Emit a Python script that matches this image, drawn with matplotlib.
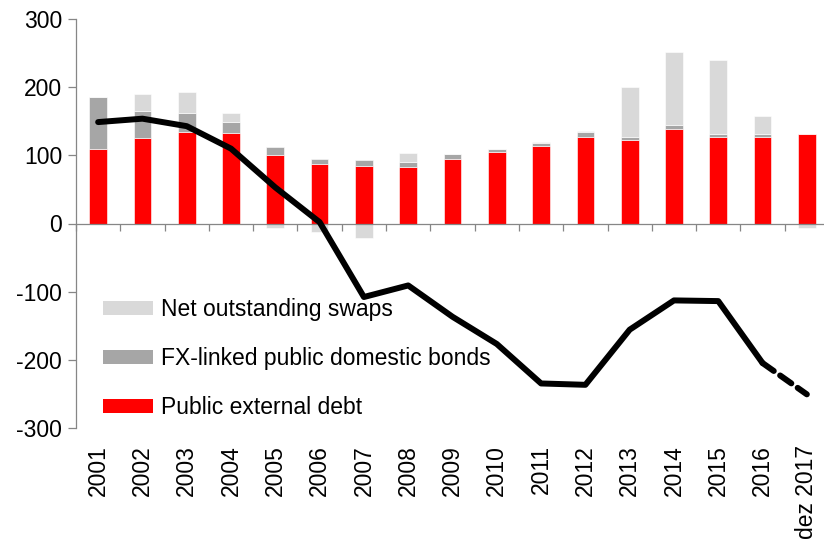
import matplotlib
matplotlib.use("Agg")
import matplotlib.pyplot as plt
import matplotlib.transforms as mtransforms
from matplotlib.patches import Patch
import numpy as np

plt.rcParams['font.family'] = ['Liberation Sans', 'DejaVu Sans']
plt.rcParams['axes.unicode_minus'] = False

# Categories (years)
years = ["2001", "2002", "2003", "2004", "2005", "2006", "2007", "2008", "2009",
         "2010", "2011", "2012", "2013", "2014", "2015", "2016", "dez 2017"]

# Stacked components (US$ bn)
public_external_debt = [109, 125, 135, 133, 100, 88, 85, 83, 95, 105, 114, 127,
                        122, 139, 127, 127, 132]
fx_linked_bonds = [77, 40, 27, 16, 12, 7, 8, 7, 7, 5, 5, 7, 5, 5, 5, 5, 0]
net_swaps = [0, 25, 31, 14, -6, -13, -22, 13, 0, 0, 1, 2, 74, 108, 108, 26, -7]

# Net position line
net_position = [149, 154, 143, 110, 53, 2, -108, -91, -137, -177, -235, -237,
                -156, -113, -114, -205, -251]

RED = "#FF0000"
GREY = "#A6A6A6"
LIGHT = "#D9D9D9"
AXIS_GREY = "#868686"
FS = 16.5

fig = plt.figure(figsize=(8.24, 5.39), dpi=100)
ax = fig.add_axes([76 / 824, 1 - 427.7 / 539, (829 - 76) / 824, (427.7 - 19.3) / 539])

x = np.arange(len(years))
ext = np.array(public_external_debt, dtype=float)
fx = np.array(fx_linked_bonds, dtype=float)
sw = np.array(net_swaps, dtype=float)

w = 0.4
ax.bar(x, ext, width=w, color=RED, edgecolor="white", linewidth=0.4, zorder=2)
ax.bar(x, fx, width=w, bottom=ext, color=GREY, edgecolor="white", linewidth=0.4, zorder=2)
sw_bottom = np.where(sw >= 0, ext + fx, 0)
ax.bar(x, sw, width=w, bottom=sw_bottom, color=LIGHT, edgecolor="white", linewidth=0.4, zorder=2)

# Line: solid through 2016, dashed to the latest point
npos = np.array(net_position, dtype=float)
ax.plot(x[:-1], npos[:-1], color="black", lw=4.3, solid_capstyle="round",
        solid_joinstyle="round", zorder=3)
ax.plot(x[-2:], npos[-2:], color="black", lw=4.3, dashes=(2.3, 1.3),
        dash_capstyle="round", zorder=3)

ax.set_xlim(-0.5, len(years) - 0.5)
ax.set_ylim(-300, 300)
ax.set_yticks(np.arange(-300, 301, 100))
ax.tick_params(axis="y", direction="out", length=6, width=0.9, color=AXIS_GREY,
               labelsize=FS, pad=4)

for s in ["top", "right"]:
    ax.spines[s].set_visible(False)
ax.spines["left"].set_color(AXIS_GREY)
ax.spines["left"].set_linewidth(0.9)
ax.spines["bottom"].set_position(("data", 0))
ax.spines["bottom"].set_color(AXIS_GREY)
ax.spines["bottom"].set_linewidth(0.9)

# Tick marks between categories on the zero line
ax.set_xticks(np.arange(-0.5, len(years), 1.0))
ax.set_xticklabels([])
ax.tick_params(axis="x", direction="out", length=5, width=0.9, color=AXIS_GREY)

# Category labels below the plot area
trans = mtransforms.blended_transform_factory(ax.transData, ax.transAxes)
for xi, lab in zip(x, years):
    ax.text(xi, -0.042, lab, transform=trans, rotation=90, ha="center", va="top",
            fontsize=FS)

handles = [Patch(facecolor=LIGHT, edgecolor="none"),
           Patch(facecolor=GREY, edgecolor="none"),
           Patch(facecolor=RED, edgecolor="none")]
labels = ["Net outstanding swaps", "FX-linked public domestic bonds", "Public external debt"]
ax.legend(handles, labels, loc="upper left", bbox_to_anchor=(0.0236, 0.34),
          frameon=False, fontsize=FS, handlelength=2.2, handleheight=0.52,
          handletextpad=0.35, labelspacing=1.14, borderaxespad=0)

fig.savefig("out.png", dpi=100)
